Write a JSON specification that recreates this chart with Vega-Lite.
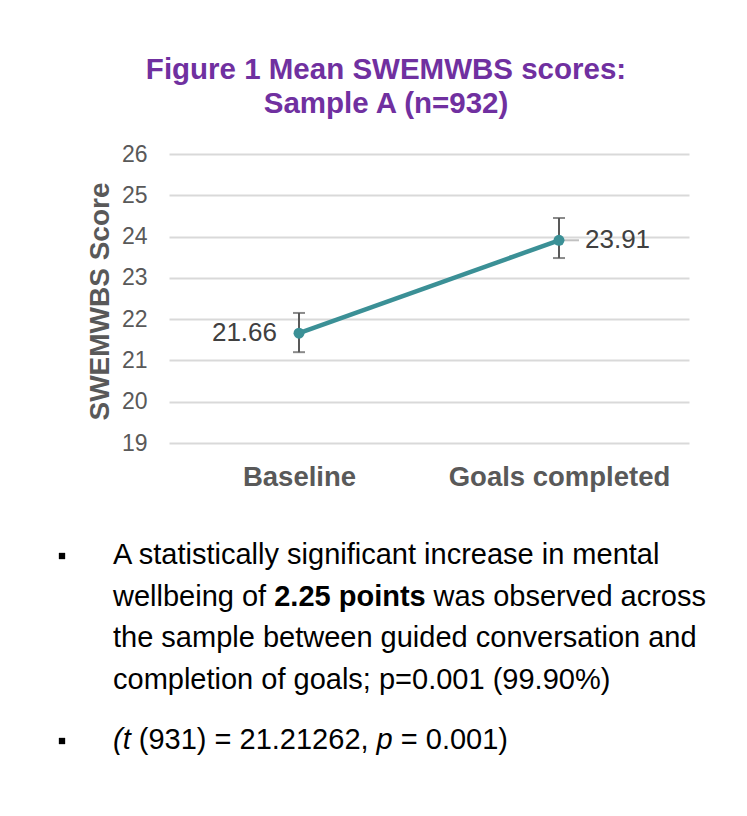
{
  "$schema": "https://vega.github.io/schema/vega-lite/v6.json",
  "background": "white",
  "padding": {"left": 58, "top": 54, "right": 10, "bottom": 10},
  "spacing": 50,
  "config": {
    "view": {"stroke": null},
    "font": "Liberation Sans",
    "axisY": {
      "grid": true,
      "gridColor": "#d9d9d9",
      "gridWidth": 2,
      "domain": false,
      "ticks": false,
      "labelFontSize": 23,
      "labelColor": "#595959",
      "labelPadding": 22,
      "titleFontSize": 28,
      "titleFontWeight": "bold",
      "titleColor": "#595959"
    },
    "axisX": {
      "grid": false,
      "domain": false,
      "ticks": false,
      "labelAngle": 0,
      "labelFontSize": 27.5,
      "labelFontWeight": "bold",
      "labelColor": "#595959",
      "labelPadding": 20,
      "labelLimit": 400
    }
  },
  "vconcat": [
    {
      "width": 520,
      "height": 289,
      "title": {
        "text": ["Figure 1 Mean SWEMWBS scores:", "Sample A (n=932)"],
        "fontSize": 29.5,
        "fontWeight": "bold",
        "color": "#7030a0",
        "lineHeight": 34,
        "anchor": "middle",
        "frame": "group",
        "dx": -43,
        "offset": 24
      },
      "data": {
        "values": [
          {"stage": "Baseline", "mean": 21.66, "lo": 21.2, "hi": 22.15},
          {"stage": "Goals completed", "mean": 23.91, "lo": 23.48, "hi": 24.45}
        ]
      },
      "encoding": {
        "x": {
          "field": "stage",
          "type": "nominal",
          "sort": null,
          "scale": {"type": "point", "padding": 0.5, "domain": ["Baseline", "Goals completed"]},
          "title": null
        }
      },
      "layer": [
        {
          "transform": [{"filter": "datum.stage == 'Goals completed'"}],
          "mark": {"type": "tick", "orient": "horizontal", "color": "#a6a6a6", "thickness": 2, "size": 16, "xOffset": 12},
          "encoding": {
            "y": {
              "field": "mean",
              "type": "quantitative",
              "scale": {"domain": [19, 26]},
              "title": "SWEMWBS Score",
              "axis": {
                "values": [19, 20, 21, 22, 23, 24, 25, 26],
                "minExtent": 110,
                "titleX": -61,
                "titleY": 147,
                "titleBaseline": "alphabetic",
                "titleAngle": -90,
                "titleAlign": "center"
              }
            }
          }
        },
        {
          "mark": {"type": "rule", "color": "#595959", "strokeWidth": 2},
          "encoding": {
            "y": {"field": "lo", "type": "quantitative", "title": "SWEMWBS Score"},
            "y2": {"field": "hi"}
          }
        },
        {
          "mark": {"type": "tick", "orient": "horizontal", "color": "#595959", "thickness": 2, "size": 12},
          "encoding": {
            "y": {"field": "lo", "type": "quantitative", "title": "SWEMWBS Score"}
          }
        },
        {
          "mark": {"type": "tick", "orient": "horizontal", "color": "#595959", "thickness": 2, "size": 12},
          "encoding": {
            "y": {"field": "hi", "type": "quantitative", "title": "SWEMWBS Score"}
          }
        },
        {
          "mark": {"type": "line", "color": "#3b9096", "strokeWidth": 4.5},
          "encoding": {
            "y": {"field": "mean", "type": "quantitative", "title": "SWEMWBS Score"}
          }
        },
        {
          "mark": {"type": "point", "filled": true, "opacity": 1, "color": "#3b9096", "size": 120},
          "encoding": {
            "y": {"field": "mean", "type": "quantitative", "title": "SWEMWBS Score"}
          }
        },
        {
          "transform": [{"filter": "datum.stage == 'Baseline'"}],
          "mark": {"type": "text", "align": "right", "baseline": "middle", "dx": -22, "fontSize": 26, "color": "#404040"},
          "encoding": {
            "y": {"field": "mean", "type": "quantitative", "title": "SWEMWBS Score"},
            "text": {"field": "mean", "type": "quantitative", "format": ".2f"}
          }
        },
        {
          "transform": [{"filter": "datum.stage == 'Goals completed'"}],
          "mark": {"type": "text", "align": "left", "baseline": "middle", "dx": 26, "fontSize": 26, "color": "#404040"},
          "encoding": {
            "y": {"field": "mean", "type": "quantitative", "title": "SWEMWBS Score"},
            "text": {"field": "mean", "type": "quantitative", "format": ".2f"}
          }
        }
      ]
    },
    {
      "width": 520,
      "height": 185,
      "data": {
        "values": [
          {"row": 1, "col": "text", "seg": "a", "text": "A statistically significant increase in mental"},
          {"row": 2, "col": "text", "seg": "a", "text": "wellbeing of"},
          {"row": 2, "col": "text", "seg": "b", "text": "2.25 points"},
          {"row": 2, "col": "text", "seg": "c", "text": "was observed across"},
          {"row": 3, "col": "text", "seg": "a", "text": "the sample between guided conversation and"},
          {"row": 4, "col": "text", "seg": "a", "text": "completion of goals; p=0.001 (99.90%)"},
          {"row": 5.45, "col": "text", "seg": "t", "text": "(t"},
          {"row": 5.45, "col": "text", "seg": "d", "text": "(931) = 21.21262,"},
          {"row": 5.45, "col": "text", "seg": "p", "text": "p"},
          {"row": 5.45, "col": "text", "seg": "e", "text": "= 0.001)"},
          {"row": 1, "col": "bullet", "seg": "bullet", "text": ""},
          {"row": 5.45, "col": "bullet", "seg": "bullet", "text": ""}
        ]
      },
      "encoding": {
        "x": {"field": "col", "type": "nominal", "scale": {"type": "point", "domain": ["bullet", "text"], "range": [-107, -56], "padding": 0}, "axis": null},
        "y": {"field": "row", "type": "quantitative", "scale": {"domain": [1, 5.45], "reverse": true, "nice": false, "zero": false}, "axis": null}
      },
      "layer": [
        {
          "transform": [{"filter": "datum.seg == 'bullet'"}],
          "mark": {"type": "point", "shape": "square", "filled": true, "opacity": 1, "color": "#000000", "size": 40, "yOffset": -8}
        },
        {
          "transform": [{"filter": "datum.seg == 'a'"}],
          "mark": {"type": "text", "align": "left", "baseline": "alphabetic", "fontSize": 29, "color": "#000000"},
          "encoding": {"text": {"field": "text"}}
        },
        {
          "transform": [{"filter": "datum.seg == 'b'"}],
          "mark": {"type": "text", "align": "left", "baseline": "alphabetic", "fontSize": 29, "fontWeight": "bold", "color": "#000000", "dx": 161.2},
          "encoding": {"text": {"field": "text"}}
        },
        {
          "transform": [{"filter": "datum.seg == 'c'"}],
          "mark": {"type": "text", "align": "left", "baseline": "alphabetic", "fontSize": 29, "color": "#000000", "dx": 320.6},
          "encoding": {"text": {"field": "text"}}
        },
        {
          "transform": [{"filter": "datum.seg == 't'"}],
          "mark": {"type": "text", "align": "left", "baseline": "alphabetic", "fontSize": 29, "fontStyle": "italic", "color": "#000000"},
          "encoding": {"text": {"field": "text"}}
        },
        {
          "transform": [{"filter": "datum.seg == 'd'"}],
          "mark": {"type": "text", "align": "left", "baseline": "alphabetic", "fontSize": 29, "color": "#000000", "dx": 25.8},
          "encoding": {"text": {"field": "text"}}
        },
        {
          "transform": [{"filter": "datum.seg == 'p'"}],
          "mark": {"type": "text", "align": "left", "baseline": "alphabetic", "fontSize": 29, "fontStyle": "italic", "color": "#000000", "dx": 263.6},
          "encoding": {"text": {"field": "text"}}
        },
        {
          "transform": [{"filter": "datum.seg == 'e'"}],
          "mark": {"type": "text", "align": "left", "baseline": "alphabetic", "fontSize": 29, "color": "#000000", "dx": 287.8},
          "encoding": {"text": {"field": "text"}}
        }
      ]
    }
  ]
}
